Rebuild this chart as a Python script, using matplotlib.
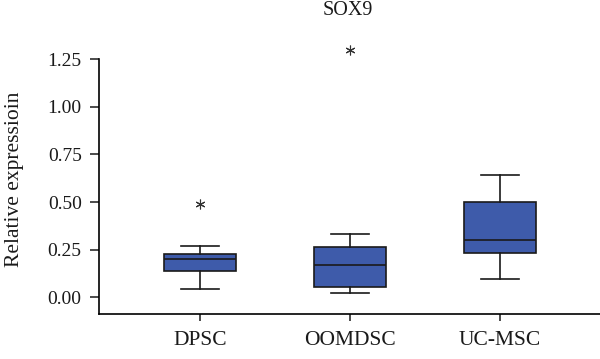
import matplotlib.pyplot as plt

plt.rcParams['font.family'] = ['Liberation Serif', 'DejaVu Serif']

# Box statistics
groups = ['DPSC', 'OOMDSC', 'UC-MSC']
whislo = [0.042, 0.021, 0.098]
q1 = [0.137, 0.054, 0.233]
med = [0.201, 0.168, 0.303]
q3 = [0.229, 0.264, 0.502]
whishi = [0.269, 0.332, 0.644]
outliers = [[0.49], [1.30], []]

stats = []
for i, name in enumerate(groups):
    stats.append({'label': name, 'whislo': whislo[i], 'q1': q1[i], 'med': med[i],
                  'q3': q3[i], 'whishi': whishi[i], 'fliers': outliers[i]})

fig = plt.figure(figsize=(6.0, 3.59), dpi=100)
ax = fig.add_axes([0.165, 0.1253, 0.835, 0.7095])

box_color = '#3E5BAA'
line_color = '#1a1a1a'
bp = ax.bxp(stats, positions=[1, 2, 3], widths=0.478, patch_artist=True,
            boxprops=dict(facecolor=box_color, edgecolor=line_color, linewidth=1.2),
            medianprops=dict(color=line_color, linewidth=1.2),
            whiskerprops=dict(color=line_color, linewidth=1.2),
            capprops=dict(color=line_color, linewidth=1.2),
            capwidths=0.25,
            flierprops=dict(marker=(6, 2, 0), markersize=7, markeredgewidth=0.8,
                            markeredgecolor='#333333', linestyle='none'))
for f in bp['fliers']:
    f.set_clip_on(False)

ax.set_xlim(0.327, 3.667)
ax.set_ylim(-0.088, 1.25)
ax.set_yticks([0.0, 0.25, 0.5, 0.75, 1.0, 1.25])
ax.set_yticklabels(['0.00', '0.25', '0.50', '0.75', '1.00', '1.25'])
ax.spines['top'].set_visible(False)
ax.spines['right'].set_visible(False)
ax.spines['left'].set_linewidth(1.2)
ax.spines['bottom'].set_linewidth(1.2)
ax.tick_params(axis='y', length=6.5, width=1.1, labelsize=14, pad=6, colors=line_color)
ax.tick_params(axis='x', length=5, width=1.1, labelsize=15.5, pad=7, colors=line_color)
ax.set_ylabel('Relative expressioin', fontsize=15.5, color=line_color, va='center')
ax.yaxis.set_label_coords(-0.168, 0.53)

fig.text(0.579, 0.970, 'SOX9', ha='center', va='center', fontsize=14.5, color=line_color)

fig.savefig('out.png', dpi=100)
